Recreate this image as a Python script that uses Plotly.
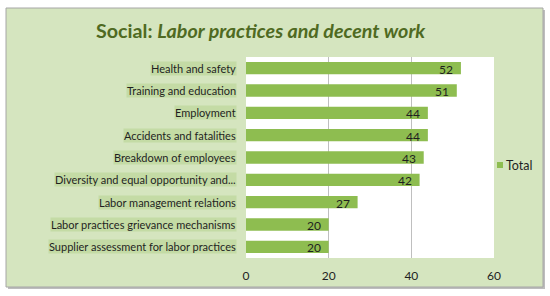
import plotly.graph_objects as go

categories = [
    "Health and safety",
    "Training and education",
    "Employment",
    "Accidents and fatalities",
    "Breakdown of employees",
    "Diversity and equal opportunity and...",
    "Labor management relations",
    "Labor practices grievance mechanisms",
    "Supplier assessment for labor practices",
]
values = [52, 51, 44, 44, 43, 42, 27, 20, 20]
x_ticks = [0, 20, 40, 60]
series_name = "Total"

W, H = 550, 296
L, R, T, B = 246, 56, 57, 38
pw, ph = W - L - R, H - T - B

def px(x):
    return (x - L) / pw

def py(y):
    return (H - B - y) / ph

BG = "#d5e5bf"
LABEL_BG = "#c4dba5"
BAR = "#8ebd50"
TITLE = "#4f6a22"
TXT = "#1f1f1f"
FONT = "Lato, Open Sans, sans-serif"

fig = go.Figure()
fig.add_trace(go.Bar(
    y=categories, x=values, orientation="h", name=series_name,
    marker=dict(color=BAR, line=dict(width=0)),
    width=0.55, showlegend=False, hoverinfo="x+y",
))

annotations = []
for c, v in zip(categories, values):
    annotations.append(dict(
        x=0, xref="x", y=c, yref="y", text=c, showarrow=False,
        xanchor="right", xshift=-9, bgcolor=LABEL_BG, borderpad=0,
        font=dict(family=FONT, size=11, color=TXT),
    ))
    annotations.append(dict(
        x=v, xref="x", y=c, yref="y", text=str(v), showarrow=False,
        xanchor="right", xshift=-6, yshift=-1,
        font=dict(family=FONT, size=12, color=TXT),
    ))
annotations.append(dict(
    x=px(261), y=py(31), xref="paper", yref="paper", showarrow=False,
    text="<b>Social: <i>Labor practices and decent work</i></b>",
    font=dict(family=FONT, size=19.7, color=TITLE),
    xanchor="center", yanchor="middle",
))
# legend entry
annotations.append(dict(
    x=px(504), y=py(165), xref="paper", yref="paper", showarrow=False,
    text=series_name, xanchor="left", yanchor="middle",
    font=dict(family=FONT, size=12.5, color=TXT),
))

shapes = [
    dict(type="rect", xref="paper", yref="paper", layer="below",
         x0=px(8), x1=px(545), y0=py(10), y1=py(289),
         fillcolor="#bdbdbd", line=dict(width=0)),
    dict(type="rect", xref="paper", yref="paper", layer="below",
         x0=px(6), x1=px(543), y0=py(8), y1=py(287),
         fillcolor=BG, line=dict(color="#a6a6a6", width=1)),
    dict(type="rect", xref="paper", yref="paper", layer="below",
         x0=0, x1=1, y0=0, y1=1, fillcolor="white", line=dict(width=0)),
    dict(type="rect", xref="paper", yref="paper", layer="above",
         x0=px(497), x1=px(503), y0=py(168), y1=py(162),
         fillcolor=BAR, line=dict(width=0)),
]

fig.update_layout(
    width=W, height=H,
    margin=dict(l=L, r=R, t=T, b=B, autoexpand=False),
    paper_bgcolor="white", plot_bgcolor="rgba(0,0,0,0)",
    font=dict(family=FONT, size=11, color=TXT),
    annotations=annotations, shapes=shapes,
    showlegend=False,
    bargap=0.45,
)
fig.update_xaxes(range=[0, 60], tickvals=x_ticks, showgrid=True, gridcolor="#bfbfbf",
                 gridwidth=1, zeroline=False, showline=False,
                 tickfont=dict(family=FONT, size=12, color=TXT), ticks="", ticklen=0,
                 ticklabelstandoff=9)
fig.update_yaxes(categoryorder="array", categoryarray=categories[::-1],
                 showticklabels=False, showgrid=False, zeroline=False, showline=False)

fig.write_html("out.html", config={"displayModeBar": False},
               post_script="document.body.style.margin='0';")
